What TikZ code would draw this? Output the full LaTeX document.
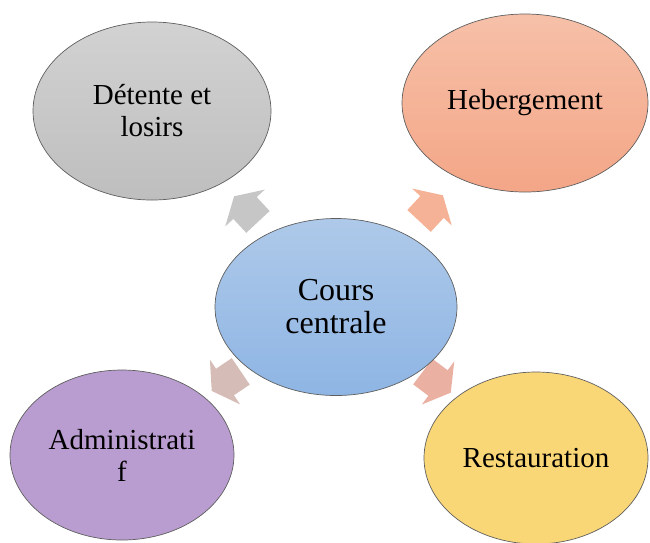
\documentclass[tikz,border=0pt]{standalone}
\usepackage{fontspec}
\setmainfont{Liberation Serif}
\usetikzlibrary{shapes.geometric}
\definecolor{bord}{RGB}{95,95,95}
\definecolor{grishaut}{RGB}{210,210,210}
\definecolor{grisbas}{RGB}{190,190,190}
\definecolor{orhaut}{RGB}{246,192,168}
\definecolor{orbas}{RGB}{244,166,135}
\definecolor{bleuhaut}{RGB}{174,201,233}
\definecolor{bleubas}{RGB}{142,181,228}
\definecolor{violet}{RGB}{186,157,208}
\definecolor{jaune}{RGB}{250,215,118}
\definecolor{flgris}{RGB}{198,198,198}
\definecolor{flor}{RGB}{245,178,150}
\definecolor{flviolet}{RGB}{214,188,182}
\definecolor{fljaune}{RGB}{234,176,162}
\begin{document}
\begin{tikzpicture}[x=1pt,y=-1pt,
		bulle/.style={ellipse,draw=bord,line width=.7pt,inner sep=0pt,align=center,font=\fontsize{29}{32}\selectfont},
		fleche/.style={line width=0pt}]
	\useasboundingbox (0,0) rectangle (650,542);
	\fill[fleche,flgris,shift={(245,208)},rotate=133] (-19,-16)--(0,-16)--(0,-27)--(16,0)--(0,27)--(0,16)--(-19,16)--cycle;
	\fill[fleche,flor,shift={(432,207)},rotate=47] (-19,-16)--(0,-16)--(0,-27)--(16,0)--(0,27)--(0,16)--(-19,16)--cycle;
	\fill[fleche,flviolet,shift={(225,382)},rotate=214] (-19,-16)--(0,-16)--(0,-27)--(16,0)--(0,27)--(0,16)--(-19,16)--cycle;
	\fill[fleche,fljaune,shift={(438,383)},rotate=-37] (-19,-16)--(0,-16)--(0,-27)--(16,0)--(0,27)--(0,16)--(-19,16)--cycle;
	\node[bulle,minimum width=238,minimum height=178,top color=grishaut,bottom color=grisbas] (detente) at (152,111) {Détente et\\losirs};
	\node[bulle,minimum width=246,minimum height=178,top color=orhaut,bottom color=orbas] (hebergement) at (525,103) {Hebergement};
	\node[bulle,minimum width=242,minimum height=177,top color=bleuhaut,bottom color=bleubas,font=\fontsize{32}{33}\selectfont] (cours) at (336,307) {Cours\\centrale};
	\node[bulle,minimum width=224,minimum height=170,fill=violet] (admin) at (122,455) {Administrati\\f};
	\node[bulle,minimum width=224,minimum height=172,fill=jaune] (restauration) at (536,458) {Restauration};
\end{tikzpicture}
\end{document}
